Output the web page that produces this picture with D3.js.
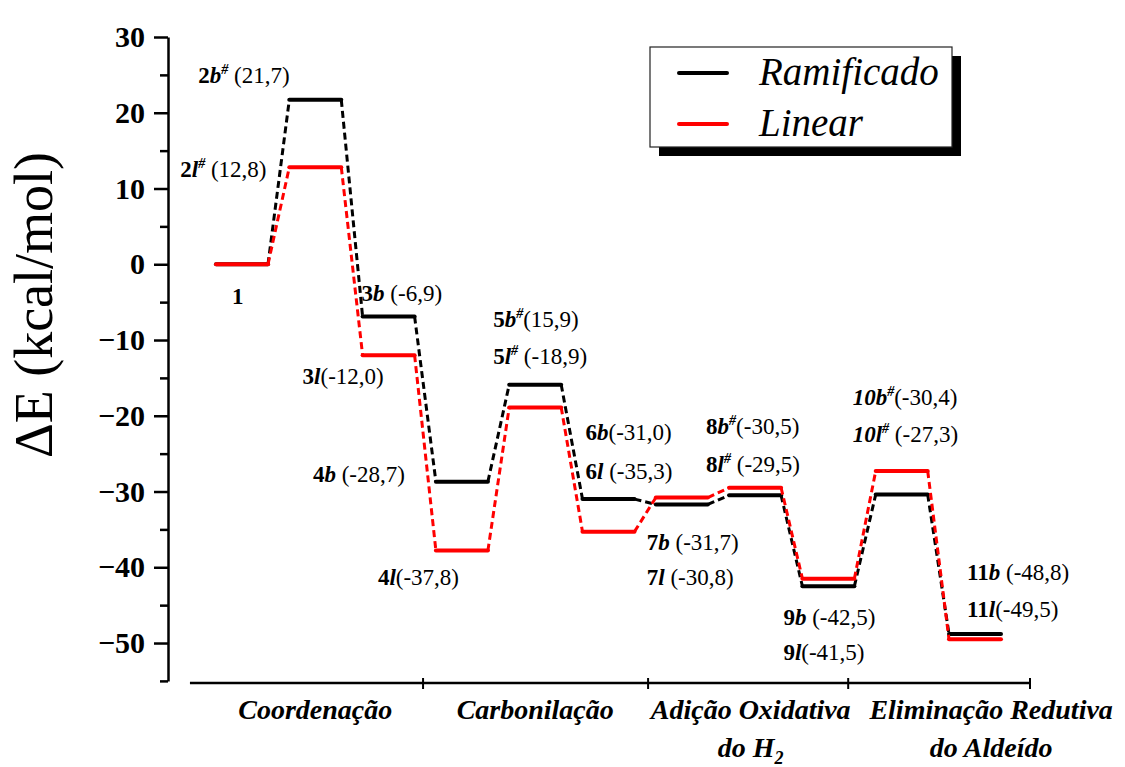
<!DOCTYPE html>
<html>
<head>
<meta charset="utf-8">
<script src="https://cdn.jsdelivr.net/npm/d3@7"></script>
<style>
  body { margin: 0; background: #fff; }
  text { font-family: "Liberation Serif", "Times New Roman", serif; }
</style>
</head>
<body>
<div id="chart"></div>
<script>
// energy profile data (kcal/mol), one value per intermediate / TS
const stepIds = ['1', '2', '3', '4', '5', '6', '7', '8', '9', '10', '11']
const ramificado = [0, 21.7, -6.9, -28.7, -15.9, -31.0, -31.7, -30.5, -42.5, -30.4, -48.8]
const linear = [0, 12.8, -12.0, -37.8, -18.9, -35.3, -30.8, -29.5, -41.5, -27.3, -49.5]
const isTS = [false, true, false, false, true, false, false, true, false, true, false]

// value strings as printed next to each level
const ramLabels = [null, ' (21,7)', ' (-6,9)', ' (-28,7)', '(15,9)', '(-31,0)', ' (-31,7)', '(-30,5)', ' (-42,5)', '(-30,4)', ' (-48,8)']
const linLabels = [null, ' (12,8)', '(-12,0)', '(-37,8)', ' (-18,9)', ' (-35,3)', ' (-30,8)', ' (-29,5)', '(-41,5)', ' (-27,3)', '(-49,5)']

const stageNames = [['Coordenação'], ['Carbonilação'], ['Adição Oxidativa', 'do H|2'], ['Eliminação Redutiva', 'do Aldeído']]
const stageCenters = [1, 4, 6.94, 10.22]
const stageBounds = [-0.71, 2.47, 5.54, 8.27, 10.75]

const yMajor = d3.range(-50, 31, 10)
const yMinor = d3.range(-55, 30, 10)

const seriesNames = ['Ramificado', 'Linear']
const seriesColors = ['#000000', '#ff0000']

// label placement, pixels relative to each level centre
const ramOffsets = [null, [-117, -17], [-27, -16], [-149, 0], [-42, -58], [-23, -59], [-35, 46], [-49, -61], [-45, 39], [-49, -90], [-8, -54]]
const linOffsets = [[-10, 40], [-135, 10], [-86, 29], [-84, 34], [-42, -43], [-23, -53], [-35, 87], [-49, -16], [-45, 81], [-49, -29], [-8, -22]]

const serif = '"Liberation Serif", "Times New Roman", serif'

let width = 1125
let height = 767

let svg = d3.select('#chart')
	.append('svg')
	.attr('width', width)
	.attr('height', height)

let x = d3.scaleLinear().domain([0, 10]).range([242, 975])
let y = d3.scaleLinear().domain([-55, 30]).range([680.9, 37])

let halfW = 26
let axisX = 168

// y axis, major and minor ticks
let yAxisG = svg.append('g')
	.attr('transform', `translate(${axisX},0)`)

yAxisG.call(d3.axisLeft(y).tickValues(yMajor).tickSize(14).tickSizeOuter(0).tickPadding(9))
yAxisG.attr('font-family', null)
yAxisG.call(g => g.selectAll('.tick text')
	.style('font-family', serif)
	.style('font-size', '30px')
	.style('font-weight', 'bold')
	.attr('fill', '#000'))

yAxisG.append('g')
	.call(d3.axisLeft(y).tickValues(yMinor).tickSize(8).tickFormat(''))
	.call(g => g.select('.domain').remove())

yAxisG.selectAll('line, path')
	.attr('stroke', '#000')
	.attr('stroke-width', 2.5)

svg.append('text')
	.attr('transform', 'translate(52,305) rotate(-90)')
	.attr('text-anchor', 'middle')
	.style('font-family', serif)
	.style('font-size', '54px')
	.text('ΔE (kcal/mol)')

// separate x "axis" with stage boundaries
svg.append('line')
	.attr('x1', x(stageBounds[0])).attr('x2', x(stageBounds[stageBounds.length - 1]))
	.attr('y1', 683).attr('y2', 683)
	.attr('stroke', '#000').attr('stroke-width', 2.5)

svg.selectAll('.stick')
	.data(stageBounds.slice(1))
	.enter()
	.append('line')
	.attr('class', 'stick')
	.attr('x1', d => x(d)).attr('x2', d => x(d))
	.attr('y1', 678).attr('y2', 689)
	.attr('stroke', '#000').attr('stroke-width', 2)

let stageText = svg.selectAll('.stage')
	.data(stageNames)
	.enter()
	.append('text')
	.attr('class', 'stage')
	.attr('text-anchor', 'middle')
	.attr('x', (d, i) => x(stageCenters[i]))
	.attr('y', 719)
	.style('font-family', serif)
	.style('font-size', '28px')
	.style('font-weight', 'bold')
	.style('font-style', 'italic')

stageText.each(function (lines, i) {
	let t = d3.select(this)
	lines.forEach((line, k) => {
		let parts = line.split('|')
		t.append('tspan')
			.attr('x', x(stageCenters[i]))
			.attr('dy', k === 0 ? 0 : 38)
			.text(parts[0])
		if (parts[1]) {
			t.append('tspan')
				.attr('dy', 7)
				.style('font-size', '18px')
				.text(parts[1])
		}
	})
})

// levels and dashed connectors
let series = [ramificado, linear]

series.forEach((vals, s) => {
	let g = svg.append('g')
	let color = seriesColors[s]

	let links = d3.pairs(vals.map((v, i) => ({ i, v })))
	g.selectAll('.link')
		.data(links)
		.enter()
		.append('line')
		.attr('x1', d => x(d[0].i) + halfW)
		.attr('y1', d => y(d[0].v))
		.attr('x2', d => x(d[1].i) - halfW)
		.attr('y2', d => y(d[1].v))
		.attr('stroke', color)
		.attr('stroke-width', 3)
		.attr('stroke-dasharray', '7,4')

	g.selectAll('.level')
		.data(vals)
		.enter()
		.append('line')
		.attr('x1', (d, i) => x(i) - halfW)
		.attr('x2', (d, i) => x(i) + halfW)
		.attr('y1', d => y(d))
		.attr('y2', d => y(d))
		.attr('stroke', color)
		.attr('stroke-width', 4)
		.attr('stroke-linecap', 'round')
})

// level labels
function addLabel(i, letter, valText, off, v) {
	if (!off) return
	let t = svg.append('text')
		.attr('x', x(i) + off[0])
		.attr('y', y(v) + off[1])
		.style('font-family', serif)
		.style('font-size', '23px')
	t.append('tspan')
		.style('font-weight', 'bold')
		.style('font-style', stepIds[i] === '10' ? 'italic' : 'normal')
		.text(stepIds[i])
	if (valText === null) return
	t.append('tspan')
		.style('font-weight', 'bold')
		.style('font-style', 'italic')
		.text(letter)
	if (isTS[i]) {
		t.append('tspan')
			.attr('dy', -9)
			.style('font-size', '14px')
			.style('font-weight', 'bold')
			.style('font-style', 'italic')
			.text('#')
		t.append('tspan')
			.attr('dy', 9)
			.text(valText)
	} else {
		t.append('tspan').text(valText)
	}
}

ramificado.forEach((v, i) => addLabel(i, 'b', ramLabels[i], ramOffsets[i], v))
linear.forEach((v, i) => addLabel(i, 'l', linLabels[i], linOffsets[i], v))

// legend with drop shadow
let leg = svg.append('g')
leg.append('rect')
	.attr('x', 659).attr('y', 56)
	.attr('width', 302).attr('height', 100)
	.attr('fill', '#000')
leg.append('rect')
	.attr('x', 650).attr('y', 47)
	.attr('width', 302).attr('height', 100)
	.attr('fill', '#fff')
	.attr('stroke', '#222')
	.attr('stroke-width', 1.2)

seriesNames.forEach((name, k) => {
	let ly = 73 + k * 51
	leg.append('line')
		.attr('x1', 679).attr('x2', 727)
		.attr('y1', ly).attr('y2', ly)
		.attr('stroke', seriesColors[k])
		.attr('stroke-width', 4)
		.attr('stroke-linecap', 'round')
	leg.append('text')
		.attr('x', 759).attr('y', ly + 12)
		.style('font-family', serif)
		.style('font-size', '39px')
		.style('font-style', 'italic')
		.text(name)
})
</script>
</body>
</html>
